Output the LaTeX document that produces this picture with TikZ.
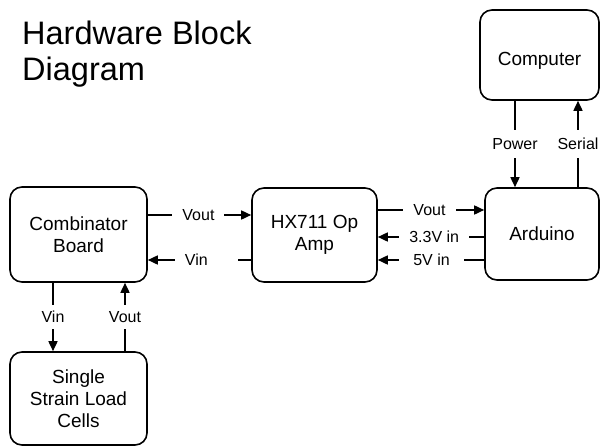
\documentclass[tikz,border=0pt]{standalone}
\usepackage{fontspec}
\setmainfont{Liberation Sans}
\usetikzlibrary{arrows.meta}

\begin{document}
\begin{tikzpicture}[x=1pt,y=-1pt,
    blk/.style 2 args={draw,line width=1.6pt,rounded corners=12pt,
      minimum width=#1,minimum height=#2,align=center,
      font=\fontsize{19}{22}\selectfont},
    conn/.style={line width=1.6pt},
    lbl/.style={fill=white,inner xsep=10pt,inner ysep=7pt,
      font=\fontsize{16}{18}\selectfont},
    >={Triangle[length=10pt,width=9pt]}]
      \useasboundingbox (0,0) rectangle (600,447);
      % title
      \node[anchor=north west,inner sep=0pt,align=left,
        font=\fontsize{32.5}{36}\selectfont] (title) at (22,21) {Hardware Block\\Diagram};
      % blocks
      \node[blk={137}{95}] (comb) at (78.5,234.5) {Combinator\\Board};
      \node[blk={125}{94}] (hx) at (314.5,235) {HX711 Op\\Amp};
      \node[blk={114}{92},text height=17pt,text depth=4pt] (ard) at (542,234) {Arduino};
      \node[blk={119}{90},text height=24pt,text depth=4pt] (comp) at (539.5,55) {Computer};
      \node[blk={137}{93}] (cells) at (78.5,398.5) {Single\\Strain Load\\Cells};
      % combinator <-> amp
      \draw[conn,->] (comb.east |- 0,215) -- node[lbl,pos=.49] {Vout} (hx.west |- 0,215);
      \draw[conn,<-] (comb.east |- 0,260) -- node[lbl,pos=.567,text width=43pt,align=left] {Vin} (hx.west |- 0,260);
      % amp <-> arduino
      \draw[conn,->] (hx.east |- 0,210) -- node[lbl,pos=.486] {Vout} (ard.west |- 0,210);
      \draw[conn,<-] (hx.east |- 0,237) -- node[lbl,pos=.53] {3.3V in} (ard.west |- 0,237);
      \draw[conn,<-] (hx.east |- 0,260) -- node[lbl,pos=.505,inner xsep=14pt] {5V in} (ard.west |- 0,260);
      % computer <-> arduino
      \draw[conn,->] (comp.south -| 515,0) -- node[lbl,inner ysep=8pt] {Power} (ard.north -| 515,0);
      \draw[conn,<-] (comp.south -| 578,0) -- node[lbl,inner ysep=8pt] {Serial} (ard.north -| 578,0);
      % combinator <-> load cells
      \draw[conn,->] (comb.south -| 53,0) -- node[lbl,inner ysep=6.5pt] {Vin} (cells.north -| 53,0);
      \draw[conn,<-] (comb.south -| 125,0) -- node[lbl,inner ysep=6.5pt] {Vout} (cells.north -| 125,0);
    \end{tikzpicture}
\end{document}
